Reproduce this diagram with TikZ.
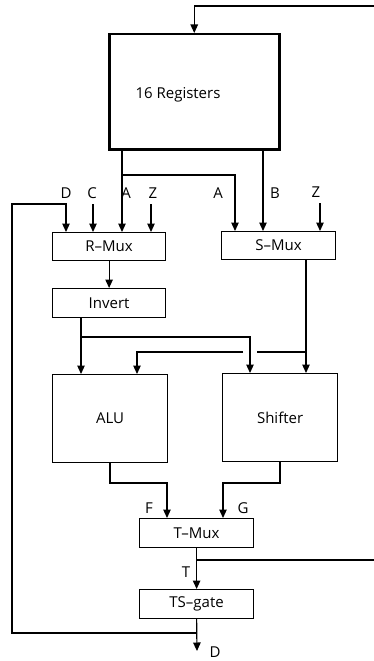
\documentclass[tikz,border=0pt]{standalone}
\usepackage{fontspec}
\setmainfont{Open Sans}
\usetikzlibrary{arrows.meta,calc}
\begin{document}
\begin{tikzpicture}[x=1pt,y=-1pt,
  every node/.style={font=\fontsize{15}{17}\selectfont},
  blk/.style={draw,line width=1.2pt,inner sep=0pt,anchor=north west},
  wire/.style={line width=1.2pt},
  arr/.style={wire,-{Triangle[length=8.5pt,width=7.5pt]}},
  lbl/.style={inner sep=0pt}]
\useasboundingbox (0,0) rectangle (374,661);
% blocks
\node[blk,line width=2.5pt,minimum width=170pt,minimum height=115pt] (reg) at (108,33) {};
\node (regtxt) at (178,95) {16 Registers};
\node[blk,minimum width=113pt,minimum height=28pt] (rmux) at (52,232) {R–Mux};
\node[blk,minimum width=114pt,minimum height=28pt] (smux) at (221,231) {S–Mux};
\node[blk,minimum width=113pt,minimum height=29pt] (inv) at (52,288) {Invert};
\node[blk,minimum width=115pt,minimum height=88pt] (alu) at (52,374) {ALU};
\node[blk,minimum width=115pt,minimum height=88pt] (shf) at (222,373) {Shifter};
\node[blk,minimum width=114pt,minimum height=29pt] (tmux) at (139,518) {T–Mux};
\node[blk,minimum width=114pt,minimum height=29pt] (tsg) at (139,589) {TS–gate};
% coordinates
\coordinate (fbtop) at (374,6);
\coordinate (rD) at (66,232);
\coordinate (rC) at (93,232);
\coordinate (rA) at (122,232);
\coordinate (rZ) at (151,232);
\coordinate (sA) at (235,231);
\coordinate (sB) at (263,231);
\coordinate (sZ) at (320,231);
\coordinate (jA) at (122,175);
\coordinate (aluL) at (81,374);
\coordinate (aluR) at (137,374);
\coordinate (shL) at (250,373);
\coordinate (shR) at (306,373);
\coordinate (jI) at (81,337);
\coordinate (jS) at (306,352);
\coordinate (gapR) at (257,352);
\coordinate (gapL) at (243,352);
\coordinate (tF) at (167,518);
\coordinate (tG) at (223,518);
\coordinate (jT) at (197,560);
\coordinate (fbright) at (374,560);
\coordinate (jD) at (197,633);
\coordinate (dout) at (197,651);
\coordinate (fbL) at (12,204);
% connectors
\draw[arr] (fbtop) -| (reg.north);
\draw[arr] (rA |- reg.south) -- (rA);
\draw[arr] (jA) -| (sA);
\draw[arr] (sB |- reg.south) -- (sB);
\draw[arr] ($(rC)+(0,-28)$) -- (rC);
\draw[arr] ($(rZ)+(0,-28)$) -- (rZ);
\draw[arr] ($(sZ)+(0,-28)$) -- (sZ);
\draw[arr] (rmux.south) -- (inv.north);
\draw[arr] (aluL |- inv.south) -- (aluL);
\draw[arr] (jI) -| (shL);
\draw[arr] (shR |- smux.south) -- (shR);
\draw[wire] (jS) -- (gapR);
\draw[arr] (gapL) -| (aluR);
\draw[arr] (110,462) -- (110,483) -| (tF);
\draw[arr] (280,461) -- (280,483) -| (tG);
\draw[arr] (tmux.south) -- (tsg.north);
\draw[wire] (jT) -- (fbright);
\draw[arr] (tsg.south) -- (dout);
\draw[arr] (jD) -| (fbL) -| (rD);
% labels
\node[lbl] (lD) at (66,193) {D};
\node[lbl] (lC) at (92,193) {C};
\node[lbl] (lA) at (126,193) {A};
\node[lbl] (lZ) at (153,193) {Z};
\node[lbl] (lA2) at (218,193) {A};
\node[lbl] (lB) at (275,193) {B};
\node[lbl] (lZ2) at (316,192) {Z};
\node[lbl] (lF) at (149,508) {F};
\node[lbl] (lG) at (243,508) {G};
\node[lbl] (lT) at (186,572) {T};
\node[lbl] (lD2) at (215,652) {D};
\end{tikzpicture}
\end{document}
